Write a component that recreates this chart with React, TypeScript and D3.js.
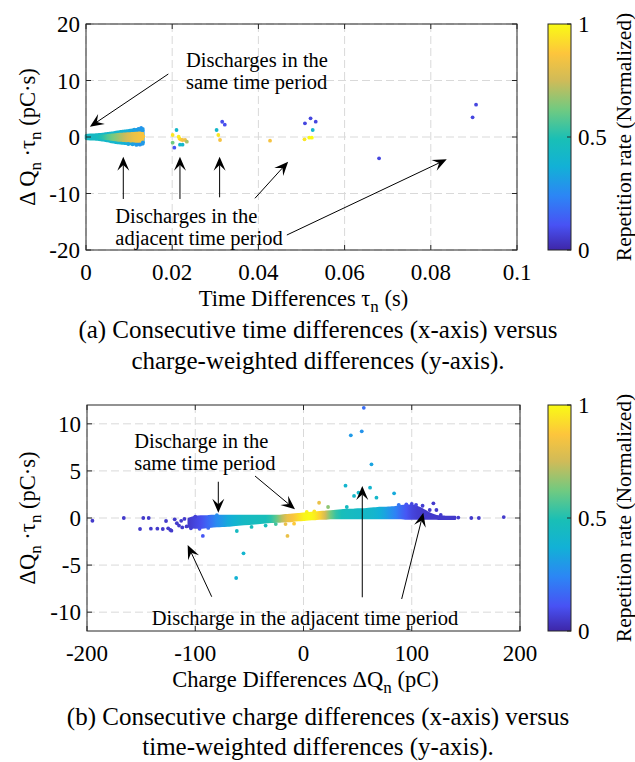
import React from 'react';
import * as d3 from 'd3';

// ---------- colormap (parula-like) ----------
const cmapStops = [0, 0.11, 0.24, 0.37, 0.49, 0.62, 0.75, 0.87, 1];
const cmapColors = ['#3e26a8', '#4852f4', '#2c86f5', '#12b1d6', '#19bfb6', '#70ca81', '#d0bb58', '#fdc53c', '#f9fb15'];
const parula = d3.scaleLinear<string>().domain(cmapStops).range(cmapColors).interpolate(d3.interpolateRgb).clamp(true);

// ---------- panel (a) data ----------
const aXTicks = [0, 0.02, 0.04, 0.06, 0.08, 0.1];
const aXTickLabels = ['0', '0.02', '0.04', '0.06', '0.08', '0.1'];
const aYTicks = [-20, -10, 0, 10, 20];
const aYTickLabels = ['-20', '-10', '0', '10', '20'];

// dense wedge, outer envelope columns: [tau, lo, hi, colorValue]
const aWedgeOuter: [number, number, number, number][] = [
  [0.0000, -0.3, 0.3, 0.44], [0.0005, -0.35, 0.35, 0.44], [0.0010, -0.38, 0.38, 0.44],
  [0.0015, -0.4, 0.4, 0.44], [0.0020, -0.42, 0.42, 0.44], [0.0025, -0.45, 0.45, 0.44],
  [0.0030, -0.48, 0.48, 0.44], [0.0035, -0.52, 0.5, 0.43], [0.0040, -0.58, 0.55, 0.43],
  [0.0045, -0.65, 0.6, 0.42], [0.0050, -0.72, 0.65, 0.42], [0.0055, -0.8, 0.7, 0.42],
  [0.0060, -0.88, 0.75, 0.41], [0.0065, -0.95, 0.82, 0.4], [0.0070, -1.02, 0.9, 0.4],
  [0.0075, -1.08, 0.95, 0.4], [0.0080, -1.12, 1.0, 0.39], [0.0085, -1.15, 1.05, 0.38],
  [0.0090, -1.18, 1.1, 0.37], [0.0095, -1.2, 1.15, 0.36], [0.0100, -1.22, 1.2, 0.35],
  [0.0105, -1.25, 1.25, 0.34], [0.0110, -1.28, 1.3, 0.33], [0.0115, -1.3, 1.35, 0.32],
  [0.0120, -1.32, 1.4, 0.3], [0.0125, -1.35, 1.45, 0.3], [0.0133, -1.3, 1.5, 0.3],
];
// dense wedge, inner core columns
const aWedgeInner: [number, number, number, number][] = [
  [0.0025, -0.05, 0.05, 0.46], [0.0030, -0.15, 0.15, 0.48], [0.0035, -0.2, 0.2, 0.5], [0.0040, -0.25, 0.22, 0.52],
  [0.0045, -0.3, 0.25, 0.55], [0.0050, -0.35, 0.3, 0.58], [0.0055, -0.4, 0.35, 0.6],
  [0.0060, -0.45, 0.38, 0.62], [0.0065, -0.5, 0.42, 0.64], [0.0070, -0.55, 0.45, 0.66],
  [0.0075, -0.6, 0.5, 0.68], [0.0080, -0.62, 0.52, 0.7], [0.0085, -0.65, 0.55, 0.72],
  [0.0090, -0.68, 0.58, 0.74], [0.0095, -0.7, 0.6, 0.76], [0.0100, -0.72, 0.62, 0.78],
  [0.0105, -0.75, 0.65, 0.8], [0.0110, -0.75, 0.68, 0.82], [0.0115, -0.78, 0.7, 0.83],
  [0.0120, -0.8, 0.72, 0.84], [0.0125, -0.8, 0.75, 0.85], [0.0132, -0.7, 0.7, 0.86],
];
// individual points: [tau, dQ*tau, colorValue]
const aPoints: [number, number, number][] = [
  [0.0128, 1.6, 0.28], [0.0131, 1.2, 0.3], [0.0122, 1.45, 0.3], [0.0112, 1.3, 0.32],
  [0.0125, -1.35, 0.28], [0.0117, -1.4, 0.3], [0.0108, -1.3, 0.32], [0.0098, -1.25, 0.34],
  [0.0132, -0.95, 0.3], [0.0133, 0.1, 0.86],
  [0.0201, 0.35, 0.95], [0.0210, 1.24, 0.42], [0.0215, 0.05, 0.97], [0.0217, -0.3, 0.95],
  [0.0220, -0.45, 0.9], [0.0224, -0.53, 0.85], [0.0230, -0.53, 0.82], [0.0234, -0.83, 0.7],
  [0.0201, -1.0, 0.62], [0.0218, -1.36, 0.42], [0.0224, -1.36, 0.42], [0.0205, -1.89, 0.12],
  [0.0316, 2.7, 0.1], [0.0322, 2.18, 0.1], [0.0303, 1.24, 0.42], [0.0307, 0.35, 0.95], [0.0311, -0.53, 0.85],
  [0.0427, -0.65, 0.85],
  [0.0508, 2.42, 0.08], [0.0521, 3.31, 0.08], [0.0533, 2.71, 0.08], [0.0526, 1.24, 0.4],
  [0.0507, -0.41, 0.95], [0.0518, -0.12, 1.0], [0.0524, -0.12, 1.0],
  [0.0680, -3.77, 0.08], [0.0897, 3.49, 0.08], [0.0905, 5.72, 0.08],
];
// annotations in data units
const aTexts: [number, number, string][] = [
  [0.0232, 12.4, 'Discharges in the'],
  [0.0232, 8.5, 'same time period'],
  [0.0068, -15.2, 'Discharges in the'],
  [0.0068, -19.1, 'adjacent time period'],
];
const aArrows: [number, number, number, number][] = [
  [0.0191, 11.15, 0.0009, 1.82],
  [0.00865, -10.97, 0.00865, -3.49],
  [0.0218, -10.97, 0.0218, -3.49],
  [0.031, -10.67, 0.031, -3.49],
  [0.0392, -10.85, 0.0469, -4.37],
  [0.0466, -17.35, 0.0837, -3.95],
];

// ---------- panel (b) data ----------
const bXTicks = [-200, -100, 0, 100, 200];
const bXTickLabels = ['-200', '-100', '0', '100', '200'];
const bYTicks = [-10, -5, 0, 5, 10];
const bYTickLabels = ['-10', '-5', '0', '5', '10'];

// dense band columns: [dQ, lo, hi, colorValue]
const bBand: [number, number, number, number][] = [
  [-106, -0.9, -0.1, 0.05], [-100, -1.0, 0.1, 0.08], [-95, -1.0, 0.15, 0.1], [-90, -0.95, 0.15, 0.15],
  [-85, -0.9, 0.2, 0.2], [-80, -0.85, 0.2, 0.26], [-75, -0.82, 0.2, 0.3], [-70, -0.8, 0.2, 0.35],
  [-65, -0.75, 0.2, 0.38], [-60, -0.7, 0.2, 0.41], [-55, -0.65, 0.2, 0.44], [-50, -0.6, 0.2, 0.45],
  [-45, -0.55, 0.2, 0.46], [-40, -0.5, 0.2, 0.47], [-35, -0.45, 0.2, 0.48], [-30, -0.4, 0.2, 0.52],
  [-25, -0.38, 0.22, 0.6], [-20, -0.35, 0.25, 0.72], [-15, -0.32, 0.3, 0.82], [-10, -0.28, 0.35, 0.86],
  [-5, -0.22, 0.4, 0.92], [0, -0.18, 0.45, 0.98], [5, -0.12, 0.5, 1.0], [10, -0.1, 0.55, 0.97],
  [15, -0.05, 0.6, 0.9], [20, -0.05, 0.65, 0.76], [25, 0, 0.7, 0.62], [30, 0, 0.75, 0.53],
  [35, 0, 0.8, 0.48], [40, 0, 0.85, 0.46], [45, 0, 0.85, 0.45], [50, 0, 0.9, 0.44],
  [55, 0, 0.9, 0.43], [60, 0, 0.95, 0.42], [65, 0, 1.0, 0.4], [70, 0, 1.05, 0.37],
  [75, 0, 1.05, 0.33], [80, 0, 1.1, 0.28], [85, 0, 1.15, 0.23], [90, 0, 1.25, 0.17],
  [95, -0.05, 1.3, 0.12], [100, -0.05, 1.3, 0.08], [105, -0.05, 1.15, 0.06], [110, -0.05, 0.9, 0.05],
  [115, -0.05, 0.55, 0.05], [120, -0.05, 0.3, 0.05], [125, -0.08, 0.15, 0.05], [130, -0.08, 0.12, 0.05],
  [135, -0.08, 0.1, 0.05], [140, -0.08, 0.1, 0.05],
];
const bPoints: [number, number, number][] = [
  [-195, -0.29, 0.05], [-166, 0, 0.05], [-148, 0, 0.05], [-143, 0, 0.05],
  [-151, -1.17, 0.05], [-141, -1.13, 0.05], [-135, -1.13, 0.05], [-130, -1.17, 0.05],
  [-127, -0.32, 0.05], [-123, -1.27, 0.05], [-122, -1.35, 0.05], [-119, -0.14, 0.05],
  [-117, -0.56, 0.05], [-115, -0.8, 0.05], [-113, -0.3, 0.05], [-110, -0.1, 0.05],
  [-108, -0.9, 0.05], [-112, -1.0, 0.05], [-125, -1.1, 0.05], [-93, -1.9, 0.12],
  [-104, -1.1, 0.06], [-100, 0.15, 0.07], [-96, -1.15, 0.1], [-88, -1.05, 0.17], [-80, 0.3, 0.26],
  [-61.6, -1.38, 0.45], [-55.4, -3.75, 0.4], [-62.2, -6.37, 0.38], [-35, -0.8, 0.47],
  [-48, -0.95, 0.47], [-25.6, -0.64, 0.55], [-16.6, -0.64, 0.82], [-14.8, -1.9, 0.82], [-8.7, -0.6, 0.88],
  [3, 0.65, 0.98], [10, 0.7, 0.95],
  [14.4, 1.62, 0.82], [22.7, 1.17, 0.66], [40, 1.17, 0.45], [38.8, 3.43, 0.4],
  [46.7, 2.34, 0.42], [50.8, 2.69, 0.42], [61.5, 3.22, 0.4], [67.4, 2.16, 0.42],
  [83.7, 2.62, 0.35], [62.8, 5.7, 0.33], [43.7, 8.78, 0.3], [53.8, 9.2, 0.28], [55.7, 11.7, 0.18],
  [88, 1.4, 0.2], [95, 1.45, 0.12], [100, 1.5, 0.08],
  [120, 1.56, 0.05], [116.6, 0.85, 0.05], [122.8, 0.85, 0.05], [126.8, 0.32, 0.05],
  [110, 1.3, 0.06], [104, 1.4, 0.08], [143, 0.05, 0.05], [155, 0, 0.05], [162, 0, 0.05], [185, 0.1, 0.05],
];
const bTexts: [number, number, string][] = [
  [-156.3, 7.4, 'Discharge in the'],
  [-156.3, 5.05, 'same time period'],
  [-140.2, -11.4, 'Discharge in the adjacent time period'],
];
const bArrows: [number, number, number, number][] = [
  [-78.7, 3.85, -78.7, 0.56],
  [-44.8, 4.46, -7.85, 0.92],
  [-84.8, -8.36, -107, -2.87],
  [54.3, -8.42, 54.3, 3.4],
  [90.7, -8.6, 110.7, 0.56],
];

const cbarTicks = [0, 0.5, 1];
const cbarTickLabels = ['0', '0.5', '1'];

const FONT = '"Liberation Serif", "Times New Roman", serif';

type Frame = { x0: number; x1: number; y0: number; y1: number };
type Col = [number, number, number, number];

function Arrow({ x1, y1, x2, y2 }: { x1: number; y1: number; x2: number; y2: number }) {
  const ang = Math.atan2(y2 - y1, x2 - x1);
  const L = 14, w = 6;
  const c = Math.cos(ang), s = Math.sin(ang);
  const pt = (u: number, v: number) => [x2 + u * c - v * s, y2 + u * s + v * c];
  const p1 = pt(-L, w), p2 = pt(-L * 0.6, 0), p3 = pt(-L, -w);
  return (
    <g>
      <line x1={x1} y1={y1} x2={p2[0]} y2={p2[1]} stroke="#000" strokeWidth={1} />
      <polygon points={`${x2},${y2} ${p1[0]},${p1[1]} ${p2[0]},${p2[1]} ${p3[0]},${p3[1]}`} fill="#000" />
    </g>
  );
}

function Band({ cols, x, y, id }: { cols: Col[]; x: d3.ScaleLinear<number, number>; y: d3.ScaleLinear<number, number>; id: string }) {
  const area = d3.area<Col>().x(d => x(d[0])).y0(d => y(d[1])).y1(d => y(d[2])).curve(d3.curveMonotoneX);
  const xa = x(cols[0][0]), xb = x(cols[cols.length - 1][0]);
  return (
    <g>
      <defs>
        <linearGradient id={id} gradientUnits="userSpaceOnUse" x1={xa} x2={xb} y1={0} y2={0}>
          {cols.map((d, i) => (
            <stop key={i} offset={(x(d[0]) - xa) / (xb - xa)} stopColor={parula(d[3])} />
          ))}
        </linearGradient>
      </defs>
      <path d={area(cols) || ''} fill={`url(#${id})`} stroke={`url(#${id})`} strokeWidth={2.5} strokeLinejoin="round" />
    </g>
  );
}

function Panel(props: {
  frame: Frame; xDomain: [number, number]; yDomain: [number, number];
  xTicks: number[]; xTickLabels: string[]; yTicks: number[]; yTickLabels: string[];
  outer: Col[]; inner?: Col[]; points: [number, number, number][];
  texts: [number, number, string][]; arrows: [number, number, number, number][];
  xLabel: React.ReactNode; yLabel: React.ReactNode; xLabelY: number; gradId: string;
}) {
  const { frame: f } = props;
  const x = d3.scaleLinear().domain(props.xDomain).range([f.x0, f.x1]);
  const y = d3.scaleLinear().domain(props.yDomain).range([f.y1, f.y0]);
  const cb = d3.scaleLinear().domain([0, 1]).range([f.y1, f.y0]);
  const tick = 5;
  const cx0 = 548, cx1 = 571;
  const midY = (f.y0 + f.y1) / 2;
  return (
    <g fontFamily={FONT}>
      {props.xTicks.map((t, i) => (
        <line key={'gx' + i} x1={x(t)} x2={x(t)} y1={f.y0} y2={f.y1} stroke="#d9d9d9" strokeDasharray="8,4" strokeWidth={1} />
      ))}
      {props.yTicks.map((t, i) => (
        <line key={'gy' + i} x1={f.x0} x2={f.x1} y1={y(t)} y2={y(t)} stroke="#d9d9d9" strokeDasharray="8,4" strokeWidth={1} />
      ))}
      <Band cols={props.outer} x={x} y={y} id={props.gradId + 'o'} />
      {props.inner ? <Band cols={props.inner} x={x} y={y} id={props.gradId + 'i'} /> : null}
      {props.points.map((d, i) => (
        <circle key={'p' + i} cx={x(d[0])} cy={y(d[1])} r={1.9} fill={parula(d[2])} />
      ))}
      <rect x={f.x0} y={f.y0} width={f.x1 - f.x0} height={f.y1 - f.y0} fill="none" stroke="#262626" strokeWidth={1} />
      {props.xTicks.map((t, i) => (
        <g key={'xt' + i}>
          <line x1={x(t)} x2={x(t)} y1={f.y1} y2={f.y1 - tick} stroke="#262626" />
          <line x1={x(t)} x2={x(t)} y1={f.y0} y2={f.y0 + tick} stroke="#262626" />
          <text x={x(t)} y={f.y1 + 30} textAnchor="middle" fontSize={23} fill="#000">{props.xTickLabels[i]}</text>
        </g>
      ))}
      {props.yTicks.map((t, i) => (
        <g key={'yt' + i}>
          <line x1={f.x0} x2={f.x0 + tick} y1={y(t)} y2={y(t)} stroke="#262626" />
          <line x1={f.x1} x2={f.x1 - tick} y1={y(t)} y2={y(t)} stroke="#262626" />
          <text x={f.x0 - 6} y={y(t) + 8} textAnchor="end" fontSize={23} fill="#000">{props.yTickLabels[i]}</text>
        </g>
      ))}
      {props.texts.map((d, i) => (
        <text key={'t' + i} x={x(d[0])} y={y(d[1])} fontSize={20.5} fill="#000">{d[2]}</text>
      ))}
      {props.arrows.map((d, i) => (
        <Arrow key={'a' + i} x1={x(d[0])} y1={y(d[1])} x2={x(d[2])} y2={y(d[3])} />
      ))}
      <text x={(f.x0 + f.x1) / 2 + 2} y={props.xLabelY} textAnchor="middle" fontSize={22.5} fill="#000">{props.xLabel}</text>
      <text transform={`translate(35,${midY}) rotate(-90)`} textAnchor="middle" fontSize={22.5} fill="#000">{props.yLabel}</text>
      <defs>
        <linearGradient id={props.gradId} x1="0" y1="1" x2="0" y2="0">
          {cmapStops.map((s, i) => (
            <stop key={i} offset={s} stopColor={cmapColors[i]} />
          ))}
        </linearGradient>
      </defs>
      <rect x={cx0} y={f.y0} width={cx1 - cx0} height={f.y1 - f.y0} fill={`url(#${props.gradId})`} stroke="#262626" strokeWidth={1} />
      {cbarTicks.map((t, i) => (
        <g key={'cb' + i}>
          <line x1={cx1} x2={cx1 - 4} y1={cb(t)} y2={cb(t)} stroke="#262626" />
          <text x={578} y={cb(t) + 8} fontSize={23} fill="#000">{cbarTickLabels[i]}</text>
        </g>
      ))}
      <text transform={`translate(631,${midY}) rotate(-90)`} textAnchor="middle" fontSize={21.5} fill="#000">Repetition rate (Normalized)</text>
    </g>
  );
}

export default function App() {
  return (
    <svg width={635} height={762} style={{ position: 'absolute', left: 0, top: 0, background: '#fff' }}>
      <rect x={0} y={0} width={635} height={762} fill="#fff" />
      <Panel
        frame={{ x0: 86, x1: 517, y0: 24, y1: 250 }}
        xDomain={[0, 0.1]} yDomain={[-20, 20]}
        xTicks={aXTicks} xTickLabels={aXTickLabels} yTicks={aYTicks} yTickLabels={aYTickLabels}
        outer={aWedgeOuter} inner={aWedgeInner} points={aPoints}
        texts={aTexts} arrows={aArrows} gradId="cbA" xLabelY={306}
        xLabel={<>
          <tspan>Time Differences τ</tspan>
          <tspan dy={6} fontSize={17}>n</tspan>
          <tspan dy={-6}> (s)</tspan>
        </>}
        yLabel={<>
          <tspan>Δ Q</tspan>
          <tspan dy={6} fontSize={17}>n</tspan>
          <tspan dy={-6}> ·τ</tspan>
          <tspan dy={6} fontSize={17}>n</tspan>
          <tspan dy={-6}> (pC·s)</tspan>
        </>}
      />
      <Panel
        frame={{ x0: 87, x1: 520, y0: 405, y1: 631 }}
        xDomain={[-200, 200]} yDomain={[-12, 12]}
        xTicks={bXTicks} xTickLabels={bXTickLabels} yTicks={bYTicks} yTickLabels={bYTickLabels}
        outer={bBand} points={bPoints}
        texts={bTexts} arrows={bArrows} gradId="cbB" xLabelY={687}
        xLabel={<>
          <tspan>Charge Differences ΔQ</tspan>
          <tspan dy={6} fontSize={17}>n</tspan>
          <tspan dy={-6}> (pC)</tspan>
        </>}
        yLabel={<>
          <tspan>ΔQ</tspan>
          <tspan dy={6} fontSize={17}>n</tspan>
          <tspan dy={-6}> ·τ</tspan>
          <tspan dy={6} fontSize={17}>n</tspan>
          <tspan dy={-6}> (pC·s)</tspan>
        </>}
      />
      <g fontFamily={FONT} fontSize={25} fill="#000" textAnchor="middle">
        <text x={318} y={338}>(a) Consecutive time differences (x-axis) versus</text>
        <text x={318} y={369}>charge-weighted differences (y-axis).</text>
        <text x={318} y={725}>(b) Consecutive charge differences (x-axis) versus</text>
        <text x={318} y={755}>time-weighted differences (y-axis).</text>
      </g>
    </svg>
  );
}
